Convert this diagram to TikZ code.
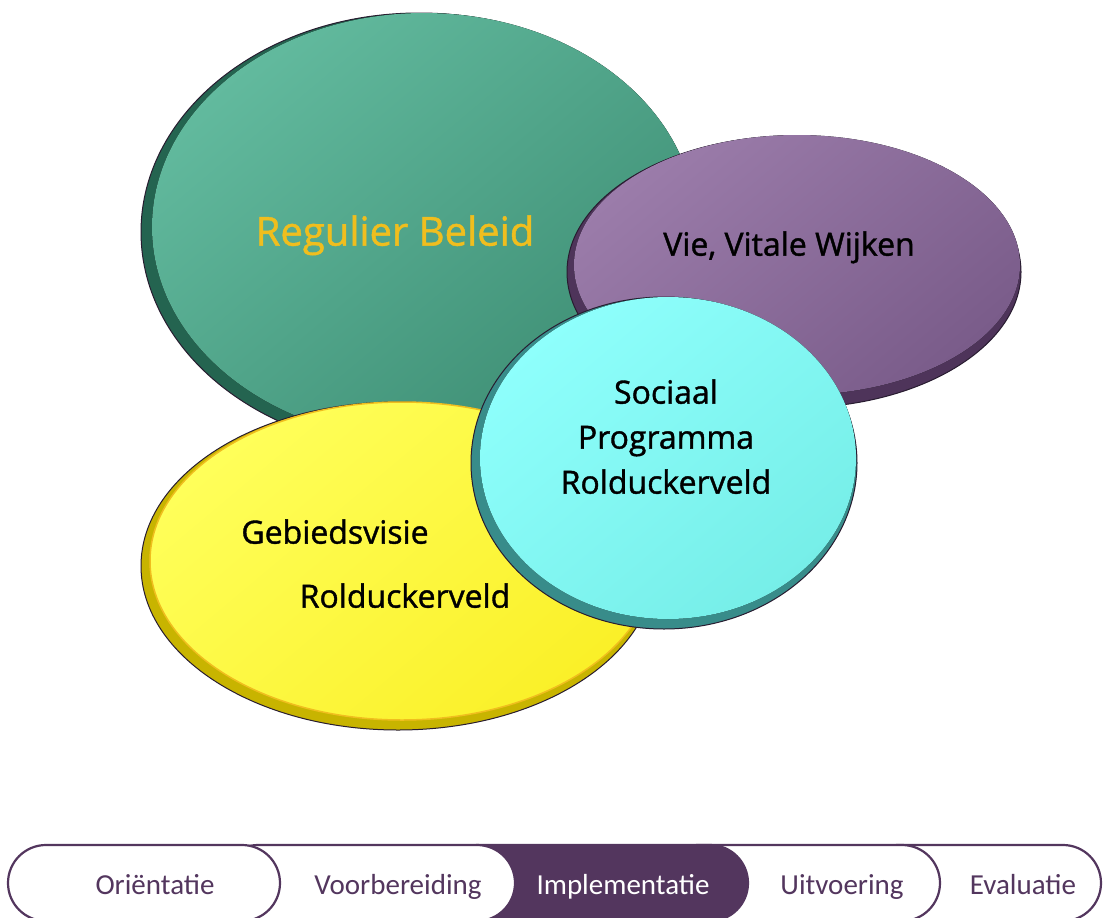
\documentclass[tikz,border=0pt]{standalone}
\usepackage{fontspec}
\setmainfont{Open Sans}
\newfontfamily\semifont[FakeBold=1.2]{Open Sans}
\newfontfamily\barfont{Carlito}
\definecolor{gA}{RGB}{98,186,158}
\definecolor{gB}{RGB}{62,142,116}
\definecolor{gR}{RGB}{36,100,80}
\definecolor{pA}{RGB}{155,124,170}
\definecolor{pB}{RGB}{122,92,138}
\definecolor{pR}{RGB}{78,52,90}
\definecolor{cA}{RGB}{142,255,252}
\definecolor{cB}{RGB}{118,238,232}
\definecolor{cR}{RGB}{56,140,138}
\definecolor{yA}{RGB}{255,255,90}
\definecolor{yB}{RGB}{250,240,40}
\definecolor{yR}{RGB}{200,180,0}
\definecolor{edge}{RGB}{40,28,48}
\definecolor{gold}{RGB}{240,190,30}
\definecolor{barc}{RGB}{83,54,94}
\tikzset{
  rim/.style={fill=#1, draw=edge, line width=1pt},
  lbl/.style={font=\semifont\fontsize{32}{40}\selectfont, text=black, align=center, text height=0.75em, text depth=0.22em},
  pill/.style={draw=barc, line width=2.2pt, fill=white, rounded corners=38pt},
  bartext/.style={font=\barfont\fontsize{29}{34}\selectfont, text=barc, text height=0.7em, text depth=0.2em}
}
\begin{document}
\begin{tikzpicture}[x=1pt,y=-1pt]
\useasboundingbox (0,0) rectangle (1106,918);
% green
\draw[rim=gR] (419,232) ellipse [x radius=278, y radius=219];
\fill[top color=gA, bottom color=gB, shading angle=40] (424,227) ellipse [x radius=272, y radius=214];
\node[font=\semifont\fontsize{40}{48}\selectfont, text=gold, text height=0.75em, text depth=0.22em] (reg) at (395,243) {Regulier Beleid};
% yellow
\draw[rim=yR] (398,566) ellipse [x radius=257, y radius=164];
\fill[top color=yA, bottom color=yB, shading angle=40] (402,561) ellipse [x radius=252, y radius=159];
\draw[gold, line width=1.5pt] (402,561) ellipse [x radius=252, y radius=159];
\node[lbl] (geb) at (335,541) {Gebiedsvisie};
\node[lbl] (rol1) at (405,605) {Rolduckerveld};
% purple
\draw[rim=pR] (794,272) ellipse [x radius=227, y radius=136];
\fill[top color=pA, bottom color=pB, shading angle=40] (797,265) ellipse [x radius=223, y radius=130];
\node[lbl] (vie) at (789,253) {Vie, Vitale Wijken};
% cyan
\draw[rim=cR] (664,463) ellipse [x radius=193, y radius=166];
\fill[top color=cA, bottom color=cB, shading angle=40] (668,458) ellipse [x radius=188, y radius=161];
\node[lbl] (soc) at (666,401) {Sociaal};
\node[lbl] (prog) at (666,446) {Programma};
\node[lbl] (rol2) at (666,491) {Rolduckerveld};
% bar
\draw[pill] (860,845) rectangle (1101,921);
\draw[pill] (660,845) rectangle (940,921);
\draw[pill, fill=barc] (440,845) rectangle (748,921);
\draw[pill] (220,845) rectangle (515,921);
\draw[pill] (8,845) rectangle (280,921);
\node[bartext] (o) at (155,892) {Oriëntatie};
\node[bartext] (v) at (398,892) {Voorbereiding};
\node[bartext, text=white] (i) at (623,892) {Implementatie};
\node[bartext] (u) at (842,892) {Uitvoering};
\node[bartext] (e) at (1023,892) {Evaluatie};
\end{tikzpicture}
\end{document}
